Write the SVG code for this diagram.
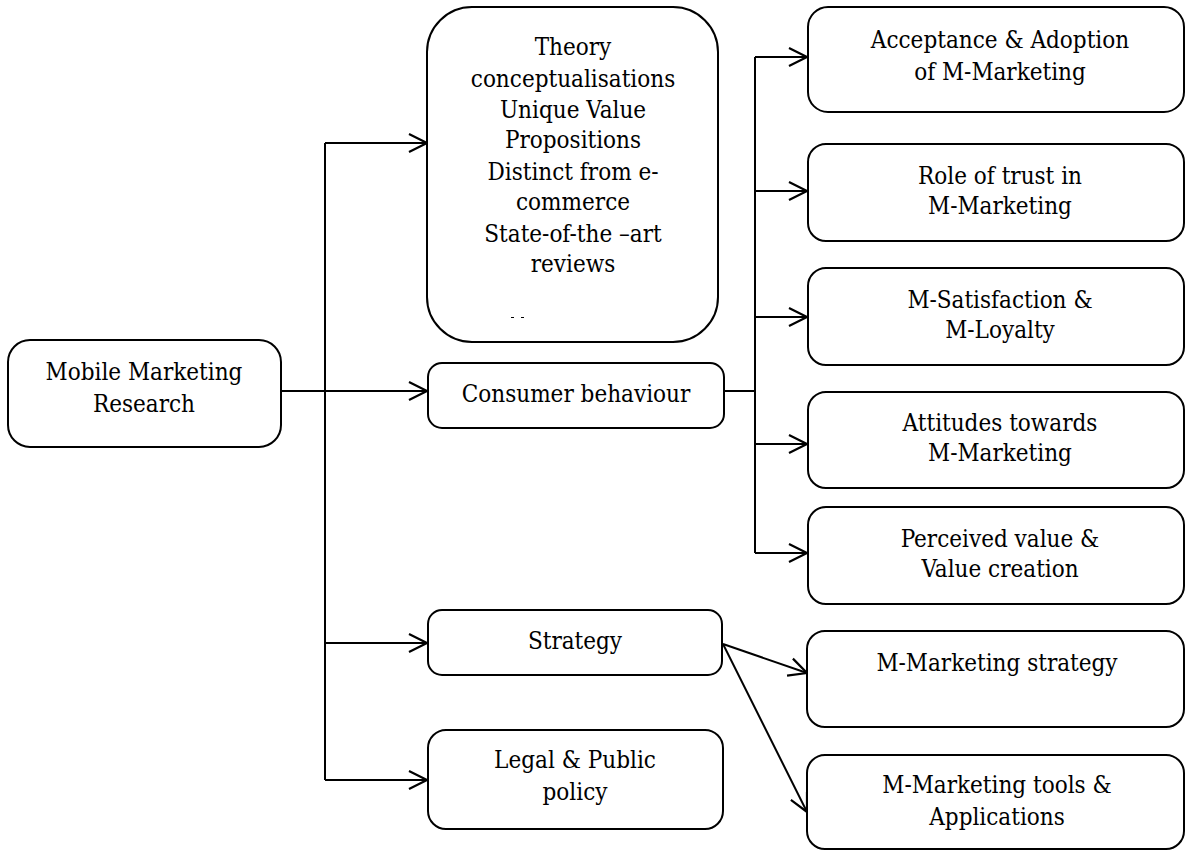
<svg xmlns="http://www.w3.org/2000/svg" width="1186" height="851" viewBox="0 0 1186 851">
<style>
.box{fill:#fff;stroke:#000;stroke-width:2}
.t{font-family:"DejaVu Serif",serif;font-stretch:condensed;font-size:24px;fill:#000;text-anchor:middle}
.c{fill:none;stroke:#000;stroke-width:2}
</style>
<defs>
<marker id="arr" markerUnits="userSpaceOnUse" markerWidth="24" markerHeight="24" viewBox="-20 -12 24 24" refX="0" refY="0" orient="auto">
<path d="M-18,-9 L0,0 L-18,9" fill="none" stroke="#000" stroke-width="2.2"/>
</marker>
</defs>
<rect width="1186" height="851" fill="#fff"/>
<g id="connectors">
<path class="c" d="M281,391 H325"/>
<path class="c" d="M325,143 V780"/>
<path class="c" d="M325,143 H427" marker-end="url(#arr)"/>
<path class="c" d="M325,391 H427" marker-end="url(#arr)"/>
<path class="c" d="M325,643 H427" marker-end="url(#arr)"/>
<path class="c" d="M325,780 H427" marker-end="url(#arr)"/>
<path class="c" d="M724,391 H755"/>
<path class="c" d="M755,57 V553"/>
<path class="c" d="M755,57 H807" marker-end="url(#arr)"/>
<path class="c" d="M755,191 H807" marker-end="url(#arr)"/>
<path class="c" d="M755,317 H807" marker-end="url(#arr)"/>
<path class="c" d="M755,444 H807" marker-end="url(#arr)"/>
<path class="c" d="M755,553 H807" marker-end="url(#arr)"/>
<path class="c" d="M723,644 L807,673" marker-end="url(#arr)"/>
<path class="c" d="M723,644 L807,812" marker-end="url(#arr)"/>
</g>
<g id="n-root">
<rect class="box" x="8" y="340" width="273" height="107" rx="22"/>
<text class="t" x="144" y="380">Mobile Marketing</text>
<text class="t" x="144" y="412">Research</text>
</g>
<g id="n-theory">
<rect class="box" x="427" y="7" width="291" height="335" rx="45"/>
<text class="t" x="573" y="55">Theory</text>
<text class="t" x="573" y="87">conceptualisations</text>
<text class="t" x="573" y="118">Unique Value</text>
<text class="t" x="573" y="148">Propositions</text>
<text class="t" x="573" y="180">Distinct from e-</text>
<text class="t" x="573" y="210">commerce</text>
<text class="t" x="573" y="242">State-of-the –art</text>
<text class="t" x="573" y="272">reviews</text>
<rect x="511" y="317" width="3" height="1" fill="#000"/>
<rect x="521" y="317" width="3" height="1" fill="#000"/>
</g>
<g id="n-consumer">
<rect class="box" x="428" y="363" width="296" height="65" rx="14"/>
<text class="t" x="576" y="402">Consumer behaviour</text>
</g>
<g id="n-strategy">
<rect class="box" x="428" y="610" width="294" height="65" rx="14"/>
<text class="t" x="575" y="649">Strategy</text>
</g>
<g id="n-legal">
<rect class="box" x="428" y="730" width="295" height="99" rx="18"/>
<text class="t" x="575" y="768">Legal &amp; Public</text>
<text class="t" x="575" y="800">policy</text>
</g>
<g id="n-accept">
<rect class="box" x="808" y="7" width="376" height="105" rx="20"/>
<text class="t" x="1000" y="48">Acceptance &amp; Adoption</text>
<text class="t" x="1000" y="80">of M-Marketing</text>
</g>
<g id="n-trust">
<rect class="box" x="808" y="144" width="376" height="97" rx="18"/>
<text class="t" x="1000" y="184">Role of trust in</text>
<text class="t" x="1000" y="214">M-Marketing</text>
</g>
<g id="n-satisfaction">
<rect class="box" x="808" y="268" width="376" height="97" rx="18"/>
<text class="t" x="1000" y="308">M-Satisfaction &amp;</text>
<text class="t" x="1000" y="338">M-Loyalty</text>
</g>
<g id="n-attitudes">
<rect class="box" x="808" y="392" width="376" height="96" rx="18"/>
<text class="t" x="1000" y="431">Attitudes towards</text>
<text class="t" x="1000" y="461">M-Marketing</text>
</g>
<g id="n-value">
<rect class="box" x="808" y="507" width="376" height="97" rx="18"/>
<text class="t" x="1000" y="547">Perceived value &amp;</text>
<text class="t" x="1000" y="577">Value creation</text>
</g>
<g id="n-mstrategy">
<rect class="box" x="807" y="631" width="377" height="96" rx="18"/>
<text class="t" x="997" y="671">M-Marketing strategy</text>
</g>
<g id="n-tools">
<rect class="box" x="807" y="755" width="377" height="94" rx="18"/>
<text class="t" x="997" y="793">M-Marketing tools &amp;</text>
<text class="t" x="997" y="825">Applications</text>
</g>
</svg>
